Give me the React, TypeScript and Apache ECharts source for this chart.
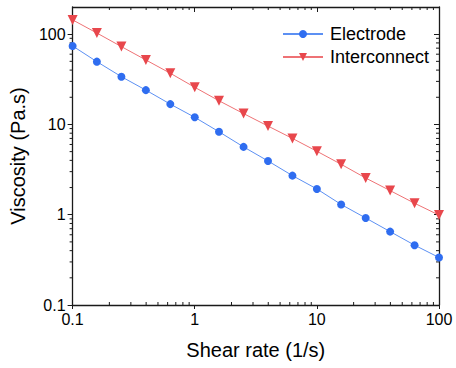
import React, { useEffect, useRef } from "react";
import * as echarts from "echarts";

const shearRate = [0.1, 0.158, 0.251, 0.398, 0.631, 1, 1.58, 2.51, 3.98, 6.31, 10, 15.8, 25.1, 39.8, 63.1, 100];
const electrode = [74, 49.6, 33.8, 24.0, 16.8, 12.0, 8.3, 5.64, 3.94, 2.71, 1.93, 1.3, 0.92, 0.65, 0.46, 0.336];
const interconnect = [144, 103, 72.8, 51.8, 36.9, 25.8, 18.3, 13.2, 9.6, 7.0, 5.05, 3.62, 2.55, 1.85, 1.34, 0.99];

const X_MIN = 0.1;
const X_MAX = 100;
const Y_MIN = 0.1;
const Y_MAX = 200;

const xMinorTicks = [0.2, 0.3, 0.4, 0.5, 0.6, 0.7, 0.8, 0.9, 2, 3, 4, 5, 6, 7, 8, 9, 20, 30, 40, 50, 60, 70, 80, 90];
const yMinorTicks = [0.2, 0.3, 0.4, 0.5, 0.6, 0.7, 0.8, 0.9, 2, 3, 4, 5, 6, 7, 8, 9, 20, 30, 40, 50, 60, 70, 80, 90];

const FONT = "'Liberation Sans', Arial, sans-serif";
const AXIS_COLOR = "#1a1a1a";
const TEXT_COLOR = "#000";

const fmt = (v: number) => {
  const l = Math.log10(v);
  if (Math.abs(l - Math.round(l)) > 1e-6) return "";
  return String(Number(v.toPrecision(6)));
};

export default function App() {
  const ref = useRef<HTMLDivElement>(null);
  useEffect(() => {
    if (!ref.current) return;
    const chart = echarts.init(ref.current, null, { renderer: "svg" });
    const tickStyle = { stroke: AXIS_COLOR, lineWidth: 1 };
    chart.setOption({
      animation: false,
      backgroundColor: "#fff",
      textStyle: { fontFamily: FONT },
      grid: { left: 71, right: 17, top: 7, bottom: 63, containLabel: false },
      legend: {
        data: ["Electrode", "Interconnect"],
        left: 277,
        top: 20,
        orient: "vertical",
        itemWidth: 40,
        itemHeight: 10,
        itemGap: 5,
        textStyle: { fontSize: 18, color: TEXT_COLOR, fontFamily: FONT, padding: [0, 0, 0, 2] },
      },
      xAxis: [
        {
          type: "log",
          logBase: 10,
          min: X_MIN,
          max: X_MAX,
          position: "bottom",
          name: "Shear rate (1/s)",
          nameLocation: "middle",
          nameGap: 35,
          nameTextStyle: { fontSize: 20, color: TEXT_COLOR, fontFamily: FONT },
          axisLine: { show: true, lineStyle: { color: AXIS_COLOR, width: 1.3 } },
          axisTick: { show: true, inside: false, length: 4, lineStyle: { color: AXIS_COLOR } },
          axisLabel: { fontSize: 16, color: TEXT_COLOR, margin: 6, formatter: fmt, fontFamily: FONT },
          splitLine: { show: false },
        },
        {
          type: "log",
          logBase: 10,
          min: X_MIN,
          max: X_MAX,
          position: "top",
          axisLine: { show: true, lineStyle: { color: AXIS_COLOR, width: 1.3 } },
          axisTick: { show: true, inside: true, length: 5, lineStyle: { color: AXIS_COLOR } },
          axisLabel: { show: false },
          splitLine: { show: false },
        },
      ],
      yAxis: [
        {
          type: "log",
          logBase: 10,
          min: Y_MIN,
          max: Y_MAX,
          position: "left",
          name: "Viscosity (Pa.s)",
          nameLocation: "middle",
          nameGap: 40,
          nameTextStyle: { fontSize: 20, color: TEXT_COLOR, fontFamily: FONT },
          axisLine: { show: true, lineStyle: { color: AXIS_COLOR, width: 1.3 } },
          axisTick: { show: true, inside: false, length: 5, lineStyle: { color: AXIS_COLOR } },
          axisLabel: { fontSize: 16, color: TEXT_COLOR, margin: 7, formatter: fmt, fontFamily: FONT, showMaxLabel: false },
          splitLine: { show: false },
        },
        {
          type: "log",
          logBase: 10,
          min: Y_MIN,
          max: Y_MAX,
          position: "right",
          axisLine: { show: true, lineStyle: { color: AXIS_COLOR, width: 1.3 } },
          axisTick: { show: true, inside: true, length: 5, lineStyle: { color: AXIS_COLOR } },
          axisLabel: { show: false },
          splitLine: { show: false },
        },
      ],
      series: [
        {
          name: "Electrode",
          type: "line",
          data: shearRate.map((x, i) => [x, electrode[i]]),
          symbol: "circle",
          symbolSize: 8,
          itemStyle: { color: "#2F6DF0" },
          lineStyle: { color: "#5C90F3", width: 1 },
          z: 3,
        },
        {
          name: "Interconnect",
          type: "line",
          data: shearRate.map((x, i) => [x, interconnect[i]]),
          symbol: "triangle",
          symbolRotate: 180,
          symbolSize: 10,
          itemStyle: { color: "#E8474C" },
          lineStyle: { color: "#EE7275", width: 1 },
          z: 3,
        },
        {
          name: "xMinor",
          type: "custom",
          silent: true,
          clip: false,
          data: xMinorTicks.map((v) => [v, Y_MIN]),
          renderItem: (_p: any, api: any) => {
            const v = api.value(0);
            const b = api.coord([v, Y_MIN]);
            const t = api.coord([v, Y_MAX]);
            return {
              type: "group",
              children: [
                { type: "line", shape: { x1: b[0], y1: b[1], x2: b[0], y2: b[1] - 3 }, style: tickStyle },
                { type: "line", shape: { x1: t[0], y1: t[1], x2: t[0], y2: t[1] + 3 }, style: tickStyle },
              ],
            };
          },
        },
        {
          name: "yMinor",
          type: "custom",
          silent: true,
          clip: false,
          data: yMinorTicks.map((v) => [X_MIN, v]),
          renderItem: (_p: any, api: any) => {
            const v = api.value(1);
            const l = api.coord([X_MIN, v]);
            const r = api.coord([X_MAX, v]);
            return {
              type: "group",
              children: [
                { type: "line", shape: { x1: l[0], y1: l[1], x2: l[0] - 3, y2: l[1] }, style: tickStyle },
                { type: "line", shape: { x1: r[0], y1: r[1], x2: r[0] - 3, y2: r[1] }, style: tickStyle },
              ],
            };
          },
        },
      ],
    });
    return () => chart.dispose();
  }, []);
  return <div ref={ref} style={{ position: "fixed", left: 0, top: 0, width: 456, height: 368 }} />;
}
